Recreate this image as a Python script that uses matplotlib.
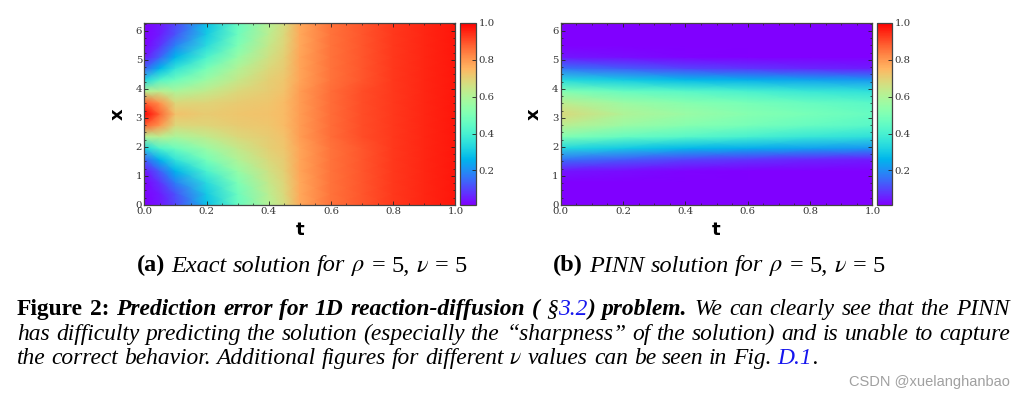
import numpy as np
import matplotlib
matplotlib.use("Agg")
import matplotlib.pyplot as plt
from matplotlib.ticker import AutoMinorLocator
from matplotlib.colors import Normalize

plt.rcParams['mathtext.fontset'] = 'stix'

# ---------------- data ----------------
# grid: t columns, x rows (x = 0 .. 2*pi in steps of pi/8)
x_grid = [0.0, 0.393, 0.785, 1.178, 1.571, 1.963, 2.356, 2.749, 3.142,
          3.534, 3.927, 4.320, 4.712, 5.105, 5.498, 5.890, 6.283]
t_exact = [0.0, 0.05, 0.1, 0.2, 0.3, 0.4, 0.45, 0.5, 0.6, 0.7, 0.8, 0.9, 1.0]
# exact solution u(x, t); one row per x value
u_exact = [
    [0.00, 0.04, 0.10, 0.28, 0.46, 0.61, 0.67, 0.77, 0.85, 0.89, 0.93, 0.95, 0.97],
    [0.00, 0.05, 0.12, 0.30, 0.47, 0.62, 0.68, 0.77, 0.85, 0.89, 0.93, 0.95, 0.97],
    [0.01, 0.08, 0.18, 0.34, 0.50, 0.64, 0.69, 0.77, 0.85, 0.89, 0.93, 0.95, 0.97],
    [0.04, 0.14, 0.26, 0.41, 0.55, 0.66, 0.70, 0.78, 0.85, 0.89, 0.93, 0.95, 0.97],
    [0.14, 0.26, 0.36, 0.49, 0.60, 0.68, 0.71, 0.78, 0.85, 0.89, 0.93, 0.95, 0.97],
    [0.32, 0.42, 0.47, 0.56, 0.64, 0.70, 0.72, 0.78, 0.85, 0.89, 0.93, 0.95, 0.97],
    [0.61, 0.62, 0.59, 0.63, 0.68, 0.71, 0.73, 0.79, 0.86, 0.90, 0.93, 0.95, 0.97],
    [0.88, 0.80, 0.68, 0.69, 0.71, 0.72, 0.74, 0.79, 0.86, 0.90, 0.93, 0.95, 0.97],
    [1.00, 0.87, 0.73, 0.71, 0.72, 0.73, 0.74, 0.79, 0.86, 0.90, 0.93, 0.95, 0.97],
    [0.88, 0.80, 0.68, 0.69, 0.71, 0.72, 0.74, 0.79, 0.86, 0.90, 0.93, 0.95, 0.97],
    [0.61, 0.62, 0.59, 0.63, 0.68, 0.71, 0.73, 0.79, 0.86, 0.90, 0.93, 0.95, 0.97],
    [0.32, 0.42, 0.47, 0.56, 0.64, 0.70, 0.72, 0.78, 0.85, 0.89, 0.93, 0.95, 0.97],
    [0.14, 0.26, 0.36, 0.49, 0.60, 0.68, 0.71, 0.78, 0.85, 0.89, 0.93, 0.95, 0.97],
    [0.04, 0.14, 0.26, 0.41, 0.55, 0.66, 0.70, 0.78, 0.85, 0.89, 0.93, 0.95, 0.97],
    [0.01, 0.08, 0.18, 0.34, 0.50, 0.64, 0.69, 0.77, 0.85, 0.89, 0.93, 0.95, 0.97],
    [0.00, 0.05, 0.12, 0.30, 0.47, 0.62, 0.68, 0.77, 0.85, 0.89, 0.93, 0.95, 0.97],
    [0.00, 0.04, 0.10, 0.28, 0.46, 0.61, 0.67, 0.77, 0.85, 0.89, 0.93, 0.95, 0.97],
]
t_pinn = [0.0, 0.2, 0.4, 0.6, 0.8, 1.0]
u_pinn = [
    [0.00, 0.00, 0.00, 0.00, 0.00, 0.00],
    [0.00, 0.00, 0.00, 0.00, 0.00, 0.00],
    [0.00, 0.00, 0.00, 0.00, 0.00, 0.00],
    [0.04, 0.03, 0.02, 0.01, 0.00, 0.00],
    [0.16, 0.13, 0.10, 0.08, 0.06, 0.05],
    [0.33, 0.30, 0.27, 0.25, 0.23, 0.21],
    [0.51, 0.46, 0.43, 0.40, 0.37, 0.35],
    [0.62, 0.56, 0.52, 0.49, 0.46, 0.43],
    [0.68, 0.60, 0.56, 0.52, 0.49, 0.46],
    [0.62, 0.56, 0.52, 0.49, 0.46, 0.43],
    [0.51, 0.46, 0.43, 0.40, 0.37, 0.35],
    [0.33, 0.30, 0.27, 0.25, 0.23, 0.21],
    [0.16, 0.13, 0.10, 0.08, 0.06, 0.05],
    [0.04, 0.03, 0.02, 0.01, 0.00, 0.00],
    [0.00, 0.00, 0.00, 0.00, 0.00, 0.00],
    [0.00, 0.00, 0.00, 0.00, 0.00, 0.00],
    [0.00, 0.00, 0.00, 0.00, 0.00, 0.00],
]
x_ticks = [0, 1, 2, 3, 4, 5, 6]
t_ticks = [0.0, 0.2, 0.4, 0.6, 0.8, 1.0]
cbar_ticks = [0.2, 0.4, 0.6, 0.8, 1.0]

sub_a = [("(a)", "bold"), (" Exact solution for ", "ital"), (r"$\rho$", "math"),
         (" = 5, ", "roman"), (r"$\nu$", "math"), (" = 5", "roman")]
sub_b = [("(b)", "bold"), (" PINN solution for ", "ital"), (r"$\rho$", "math"),
         (" = 5, ", "roman"), (r"$\nu$", "math"), (" = 5", "roman")]
cap_lines = [
    [("Figure 2:", "bold"), (" Prediction error for 1D reaction-diffusion ( ", "boldital"), ("§", "ital"),
     ("3.2", "link"), (") problem.", "boldital"), (" We can clearly see that the PINN", "ital")],
    [("has difficulty predicting the solution (especially the \u201csharpness\u201d of the solution) and is unable to capture", "ital")],
    [("the correct behavior. Additional figures for different ", "ital"), (r"$\nu$", "math"),
     (" values can be seen in Fig. ", "ital"), ("D.1", "link"), (".", "ital")],
]
watermark = "CSDN @xuelanghanbao"

# ---------------- figure ----------------
W, H = 1020, 397
fig = plt.figure(figsize=(W / 100, H / 100), dpi=100)
norm = Normalize(vmin=0.013, vmax=1.0)


def px_axes(l, t, r, b):
    return [l / W, 1 - b / H, (r - l) / W, (b - t) / H]


def panel(ax_box, cb_box, tt, uu):
    ax = fig.add_axes(px_axes(*ax_box))
    cax = fig.add_axes(px_axes(*cb_box))
    mesh = ax.pcolormesh(np.array(tt), np.array(x_grid), np.array(uu),
                         shading='gouraud', cmap='rainbow', norm=norm)
    ax.set_xlim(0, 1)
    ax.set_ylim(0, x_grid[-1])
    ax.set_xticks(t_ticks)
    ax.set_yticks(x_ticks)
    ax.xaxis.set_minor_locator(AutoMinorLocator(4))
    ax.yaxis.set_minor_locator(AutoMinorLocator(4))
    ax.tick_params(which='both', direction='in', top=True, right=True,
                   colors='#222222', labelcolor='#333333')
    ax.tick_params(which='major', length=3, width=0.6, labelsize=7.3, pad=1.5)
    ax.tick_params(which='minor', length=1.5, width=0.5)
    for lab in ax.get_xticklabels() + ax.get_yticklabels():
        lab.set_fontfamily('DejaVu Serif')
    for sp in ax.spines.values():
        sp.set_color('#444444')
        sp.set_linewidth(0.9)
    ax.set_xlabel('t', fontsize=13, fontweight='bold')
    ax.set_ylabel('x', fontsize=13, fontweight='bold')
    ax.xaxis.set_label_coords(0.5, -0.09)
    ax.yaxis.set_label_coords(-0.058, 0.5)
    cb = fig.colorbar(mesh, cax=cax)
    cb.set_ticks(cbar_ticks)
    cb.ax.tick_params(direction='in', length=3, width=0.6, labelsize=7.3, pad=1.5,
                      colors='#222222', labelcolor='#333333')
    for lab in cb.ax.get_yticklabels():
        lab.set_fontfamily('DejaVu Serif')
    cb.outline.set_edgecolor('#444444')
    cb.outline.set_linewidth(0.9)
    return ax


panel((144.3, 22.7, 455.3, 205), (460.3, 22.7, 476.3, 205), t_exact, u_exact)
panel((560.7, 22.7, 872.3, 205), (877, 22.7, 892.3, 205), t_pinn, u_pinn)

# ---------------- text ----------------
renderer = fig.canvas.get_renderer()
SERIF = 'Liberation Serif'
STYLES = {
    'bold': dict(family=SERIF, fontweight='bold'),
    'ital': dict(family=SERIF, fontstyle='italic'),
    'roman': dict(family=SERIF),
    'boldital': dict(family=SERIF, fontweight='bold', fontstyle='italic'),
    'link': dict(family=SERIF, fontstyle='italic', color='#1515ee'),
    'math': dict(),
}


def style_kw(st, fs):
    kw = dict(fontsize=fs, color='black')
    kw.update(STYLES[st])
    return kw


def words_of(runs):
    words = [[]]
    for txt, st in runs:
        if st == 'math':
            words[-1].append((txt, st))
            continue
        parts = txt.split(' ')
        for i, p in enumerate(parts):
            if i > 0:
                words.append([])
            if p:
                words[-1].append((p, st))
    return [w for w in words if w]


def measure(seg, fs):
    t = fig.text(0, 0, seg[0], **style_kw(seg[1], fs))
    w = t.get_window_extent(renderer).width
    t.remove()
    return w


def line_natural(runs, fs):
    ws = words_of(runs)
    tot = sum(sum(measure(s, fs) for s in w) for w in ws)
    return tot + 0.25 * fs * 100 / 72 * (len(ws) - 1)


def draw_line(runs, x0, base, fs, target=None):
    ws = words_of(runs)
    widths = [[measure(s, fs) for s in w] for w in ws]
    total = sum(sum(w) for w in widths)
    gap = 0.25 * fs * 100 / 72
    if target is not None and len(ws) > 1:
        gap = (target - total) / (len(ws) - 1)
    x = x0
    for w, wl in zip(ws, widths):
        for seg, sw in zip(w, wl):
            fig.text(x / W, 1 - base / H, seg[0], va='baseline', ha='left',
                     **style_kw(seg[1], fs))
            x += sw
        x += gap


# fit caption size to the full width line
fs_cap = 12.0 * 993 / line_natural(cap_lines[1], 12.0)
draw_line(cap_lines[0], 17, 315, fs_cap, target=993)
draw_line(cap_lines[1], 17, 340, fs_cap, target=993)
draw_line(cap_lines[2], 17, 364, fs_cap)

fs_sub = 12.0 * 332 / line_natural(sub_a, 12.0)
draw_line(sub_a, 136.7, 271.5, fs_sub)
draw_line(sub_b, 553.3, 271.5, fs_sub)

fig.text(1010 / W, 1 - 386 / H, watermark, ha='right', va='baseline',
         family='Liberation Sans', fontsize=10.5, color='#a0a0a0')

fig.savefig('out.png', dpi=100)
